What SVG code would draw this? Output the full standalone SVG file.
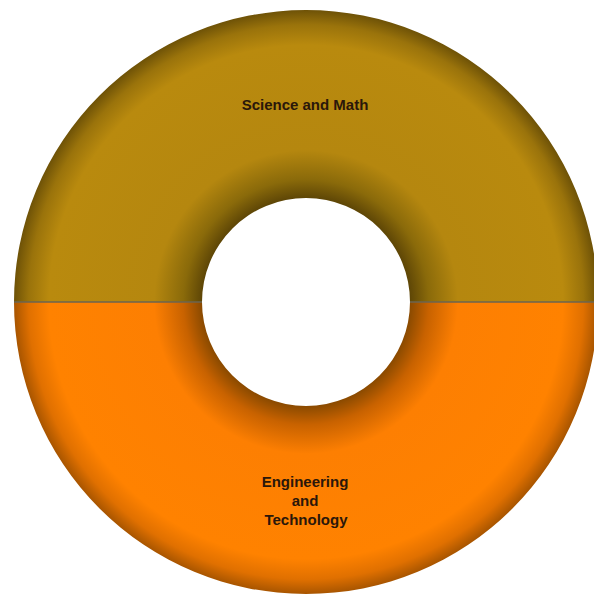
<svg xmlns="http://www.w3.org/2000/svg" width="594" height="594" viewBox="0 0 594 594">
<defs>
<radialGradient id="gTop" gradientUnits="userSpaceOnUse" cx="306" cy="302" r="292">
<stop offset="0.356" stop-color="#5e4606"/>
<stop offset="0.42" stop-color="#8a6a0a"/>
<stop offset="0.52" stop-color="#b5870f"/>
<stop offset="0.88" stop-color="#b98a0e"/>
<stop offset="0.95" stop-color="#9a730b"/>
<stop offset="1" stop-color="#6e5207"/>
</radialGradient>
<radialGradient id="gBot" gradientUnits="userSpaceOnUse" cx="306" cy="302" r="292">
<stop offset="0.356" stop-color="#8a4a00"/>
<stop offset="0.42" stop-color="#c86200"/>
<stop offset="0.52" stop-color="#fd7f02"/>
<stop offset="0.88" stop-color="#ff8200"/>
<stop offset="0.95" stop-color="#e07000"/>
<stop offset="1" stop-color="#a85500"/>
</radialGradient>
<style>
.lbl{font-family:"Liberation Sans",Arial,sans-serif;font-weight:bold;font-size:15px;fill:#2a170a;text-anchor:middle}
.div{stroke:#6b6550;stroke-width:1.5;fill:none}
</style>
</defs>
<g id="science-math">
<path d="M 14 302 A 292 292 0 0 1 598 302 L 410 302 A 104 104 0 0 0 202 302 Z" fill="url(#gTop)"/>
<text class="lbl" x="305" y="110">Science and Math</text>
</g>
<g id="engineering-technology">
<path d="M 14 302 A 292 292 0 0 0 598 302 L 410 302 A 104 104 0 0 1 202 302 Z" fill="url(#gBot)"/>
<text class="lbl" x="305" y="487">Engineering</text>
<text class="lbl" x="305" y="506">and</text>
<text class="lbl" x="306" y="525">Technology</text>
</g>
<g id="connectors">
<line class="div" x1="14" y1="302" x2="202" y2="302"/>
<line class="div" x1="410" y1="302" x2="598" y2="302"/>
</g>
</svg>
